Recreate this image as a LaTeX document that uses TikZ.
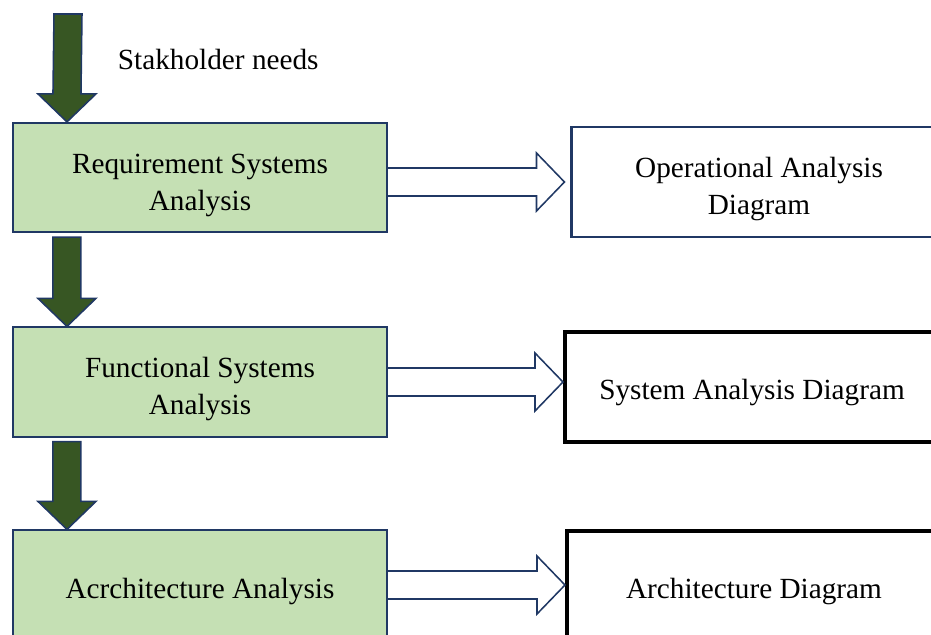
\documentclass[tikz,border=0pt]{standalone}
\usepackage{fontspec}
\setmainfont{Liberation Serif}
\usetikzlibrary{calc}

\definecolor{stagefill}{HTML}{C5E0B4}
\definecolor{flowgreen}{HTML}{375623}
\definecolor{navyline}{HTML}{203864}

% green block arrow, from #1 down to #2
\newcommand{\flowarrow}[2]{%
  \draw[navyline, line width=1.1pt, fill=flowgreen]
    ($(#1)+(-\sw,0)$) -- ($(#2)+(-\sw,-\hl)$) -- ($(#2)+(-\hw,-\hl)$) -- (#2)
    -- ($(#2)+(\hw,-\hl)$) -- ($(#2)+(\sw,-\hl)$) -- ($(#1)+(\sw,0)$) -- cycle;}
% hollow block arrow, from #1 right to #2
\newcommand{\outarrow}[2]{%
  \draw[navyline, line width=1.1pt, fill=white]
    ($(#1)+(0,-\sw)$) -- ($(#2)+(-\hl,-\sw)$) -- ($(#2)+(-\hl,-\hw)$) -- (#2)
    -- ($(#2)+(-\hl,\hw)$) -- ($(#2)+(-\hl,\sw)$) -- ($(#1)+(0,\sw)$);}

\begin{document}
\begin{tikzpicture}[x=0.025cm, y=-0.025cm,
    stage/.style={draw=navyline, line width=1.4pt, fill=stagefill, inner sep=0pt,
      minimum width=9.35cm, minimum height=2.73cm, align=center,
      font=\fontsize{20.8}{26.3}\selectfont,
      execute at begin node=\rule{0pt}{23pt}},
    result/.style={draw=black, line width=2.8pt, fill=white, inner sep=0pt,
      minimum width=9.35cm, minimum height=2.75cm, align=center,
      font=\fontsize{20.8}{26.3}\selectfont,
      execute at begin node=\rule{0pt}{22pt}},
    twolines/.style={execute at begin node=\rule{0pt}{51pt}}]
  \def\sw{14}
  \def\hw{29}
  \def\hl{28}

  \useasboundingbox (0,0) rectangle (931,635);
  \clip (0,0) rectangle (931,635);

  % Etapas
  \node[stage, twolines] (req) at (200,177.5) {Requirement Systems\\Analysis};
  \node[stage, twolines] (func) at (200,382) {Functional Systems\\Analysis};
  \node[stage] (arch) at (200,585) {Acrchitecture Analysis};

  % Diagramas
  \node[result, twolines, draw=navyline, line width=2.1pt] (opd) at (759,182) {Operational Analysis\\Diagram};
  \node[result] (sad) at (752,387) {System Analysis Diagram};
  \node[result] (ard) at (754,586) {Architecture Diagram};

  % Entrada
  \coordinate (needs) at (68,14);
  \node[anchor=west, font=\fontsize{20.8}{26.3}\selectfont] (needstext) at (113,60) {Stakholder needs};

  % Flujo vertical
  \coordinate (t1) at ($(req.north west)+(55,0)$);
  \coordinate (s2) at ($(req.south west)+(55,4)$);
  \coordinate (t2) at ($(func.north west)+(55,0)$);
  \coordinate (s3) at ($(func.south west)+(55,4)$);
  \coordinate (t3) at ($(arch.north west)+(55,0)$);
  \flowarrow{needs}{t1}
  \flowarrow{s2}{t2}
  \flowarrow{s3}{t3}

  % Salidas
  \coordinate (s1) at (req.east |- opd.west);
  \coordinate (e1) at ($(opd.west)+(-6,0)$);
  \coordinate (e2) at (func.east -| sad.west);
  \coordinate (e3) at (arch.east -| ard.west);
  \outarrow{s1}{e1}
  \outarrow{func.east}{e2}
  \outarrow{arch.east}{e3}
\end{tikzpicture}
\end{document}
